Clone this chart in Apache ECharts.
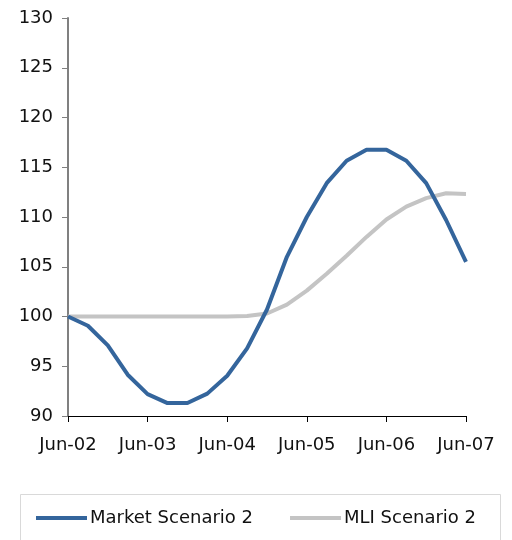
<!DOCTYPE html>
<html><head><meta charset="utf-8">
<script src="https://cdn.jsdelivr.net/npm/echarts@6/dist/echarts.min.js"></script>
<style>html,body{margin:0;padding:0;background:#fff}#c{width:512px;height:540px}</style>
</head><body><div id="c"></div>
<script>
const categories = ['Jun-02','Sep-02','Dec-02','Mar-03','Jun-03','Sep-03','Dec-03','Mar-04','Jun-04','Sep-04','Dec-04','Mar-05','Jun-05','Sep-05','Dec-05','Mar-06','Jun-06','Sep-06','Dec-06','Mar-07','Jun-07'];
const marketScenario2 = [100, 99.07, 97.1, 94.15, 92.2, 91.3, 91.3, 92.25, 94.05, 96.8, 100.7, 106.0, 110.0, 113.4, 115.65, 116.75, 116.75, 115.65, 113.4, 109.7, 105.5];
const mliScenario2 = [100, 100, 100, 100, 100, 100, 100, 100, 100, 100.05, 100.3, 101.2, 102.6, 104.3, 106.1, 108.0, 109.75, 111.05, 111.9, 112.38, 112.32];
const yTicks = {min: 90, max: 130, interval: 5};

const chart = echarts.init(document.getElementById('c'));
chart.setOption({
  animation: false,
  backgroundColor: '#fff',
  textStyle: {fontFamily: 'DejaVu Sans'},
  grid: {left: 68, right: 46, top: 18, bottom: 124, containLabel: false},
  xAxis: {
    type: 'category', data: categories, boundaryGap: false,
    axisLine: {lineStyle: {color: '#000', width: 1}},
    axisTick: {show: true, interval: 3, length: 6, inside: false, lineStyle: {color: '#000'}},
    axisLabel: {interval: 3, color: '#111', fontSize: 18, margin: 20, fontFamily: 'DejaVu Sans'},
    splitLine: {show: false}
  },
  yAxis: {
    type: 'value', min: yTicks.min, max: yTicks.max, interval: yTicks.interval,
    axisLine: {show: true, lineStyle: {color: '#808080', width: 2}},
    axisTick: {show: true, length: 6, lineStyle: {color: '#808080'}},
    axisLabel: {color: '#111', fontSize: 18, margin: 15, fontFamily: 'DejaVu Sans'},
    splitLine: {show: false}
  },
  legend: {
    left: 31, top: 504, itemWidth: 51, itemHeight: 4, itemGap: 37,
    icon: 'rect',
    textStyle: {fontSize: 18, color: '#111', fontFamily: 'DejaVu Sans', padding: [0,0,0,-2]},
    data: ['Market Scenario 2', 'MLI Scenario 2']
  },
  graphic: [{
    type: 'rect', left: 20, top: 494, z: -1,
    shape: {width: 480, height: 60},
    style: {fill: '#fff', stroke: '#d9d9d9', lineWidth: 1}
  }],
  series: [
    {name: 'MLI Scenario 2', type: 'line', data: mliScenario2, showSymbol: false, symbol: 'none',
     lineStyle: {color: '#c4c4c4', width: 4}, itemStyle: {color: '#c4c4c4'}, z: 2},
    {name: 'Market Scenario 2', type: 'line', data: marketScenario2, showSymbol: false, symbol: 'none',
     lineStyle: {color: '#34659c', width: 4}, itemStyle: {color: '#34659c'}, z: 3}
  ]
});
</script></body></html>
